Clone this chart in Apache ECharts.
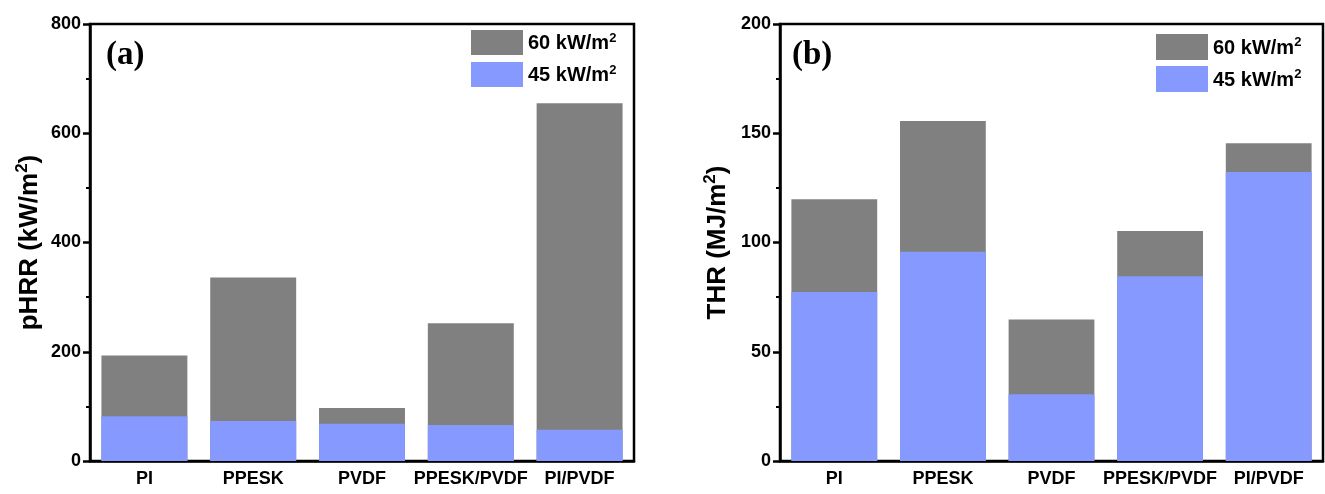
<!DOCTYPE html>
<html>
<head>
<meta charset="utf-8">
<script src="https://cdn.jsdelivr.net/npm/echarts@6/dist/echarts.min.js"></script>
<style>
  html, body { margin: 0; padding: 0; background: #fff; }
  #main { width: 1325px; height: 494px; }
</style>
</head>
<body>
<div id="main"></div>
<script>
// samples along the x axis
var categories = ['PI', 'PPESK', 'PVDF', 'PPESK/PVDF', 'PI/PVDF'];
// peak heat release rate, kW/m2
var phrr60 = [193, 336, 97, 252, 655];
var phrr45 = [82, 73, 68, 66, 57];
// total heat release, MJ/m2
var thr60 = [119.8, 155.6, 64.8, 105.3, 145.4];
var thr45 = [77.3, 95.8, 30.5, 84.5, 132.3];
var legendNames = ['60 kW/m2', '45 kW/m2'];

var gray = '#808080';
var blue = '#8599ff';
var font = 'Liberation Sans, Arial, sans-serif';

var supRich = {
    a: { fontFamily: font, fontWeight: 'bold', fontSize: 26, color: '#000', lineHeight: 29, verticalAlign: 'bottom' },
    s: { fontFamily: font, fontWeight: 'bold', fontSize: 17, color: '#000', lineHeight: 17, verticalAlign: 'top' }
};
var legRich = {
    a: { fontFamily: font, fontWeight: 'bold', fontSize: 20, color: '#000', lineHeight: 22, verticalAlign: 'bottom' },
    s: { fontFamily: font, fontWeight: 'bold', fontSize: 13, color: '#000', lineHeight: 13, verticalAlign: 'top' }
};

function xAxis(idx) {
    return {
        type: 'category', gridIndex: idx, data: categories,
        axisLine: { lineStyle: { color: '#000', width: 2.5 } },
        axisTick: { alignWithLabel: true, length: 7, lineStyle: { color: '#000', width: 2.5 } },
        axisLabel: { interval: 0, fontFamily: font, fontWeight: 'bold', fontSize: 18, color: '#000', margin: 9 }
    };
}
function yAxis(idx, max, interval, name) {
    return {
        type: 'value', gridIndex: idx, min: 0, max: max, interval: interval,
        name: name, nameLocation: 'middle', nameGap: idx === 0 ? 47 : 49, nameRotate: 90,
        nameTextStyle: { rich: supRich },
        splitLine: { show: false },
        axisLine: { show: true, lineStyle: { color: '#000', width: 2.5 } },
        axisTick: { show: true, length: 7, lineStyle: { color: '#000', width: 2.5 } },
        minorTick: { show: true, splitNumber: 2, length: 4, lineStyle: { color: '#000', width: 2 } },
        axisLabel: { fontFamily: font, fontWeight: 'bold', fontSize: 18, color: '#000', margin: 9 }
    };
}
function legendFmt(name) {
    return '{a|' + name.slice(0, -1) + '}{s|2}';
}

var chart = echarts.init(document.getElementById('main'));
chart.setOption({
    animation: false,
    grid: [
        { left: 90, top: 24, width: 544, height: 437, show: true, borderColor: '#000', borderWidth: 2.5 },
        { left: 780, top: 24, width: 543, height: 437, show: true, borderColor: '#000', borderWidth: 2.5 }
    ],
    legend: [
        {
            data: legendNames, left: 471, top: 30, orient: 'vertical', padding: 0,
            itemWidth: 52, itemHeight: 25, itemGap: 7, icon: 'rect',
            formatter: legendFmt, textStyle: { rich: legRich }, selectedMode: false
        },
        {
            data: legendNames, left: 1156, top: 34, orient: 'vertical', padding: 0,
            itemWidth: 52, itemHeight: 26, itemGap: 6, icon: 'rect',
            formatter: legendFmt, textStyle: { rich: legRich }, selectedMode: false
        }
    ],
    title: [
        { text: '(a)', left: 106, top: 39, padding: 0, textStyle: { fontFamily: 'Liberation Serif, Times New Roman, serif', fontWeight: 'bold', fontSize: 33, color: '#000' } },
        { text: '(b)', left: 792, top: 39, padding: 0, textStyle: { fontFamily: 'Liberation Serif, Times New Roman, serif', fontWeight: 'bold', fontSize: 33, color: '#000' } }
    ],
    xAxis: [xAxis(0), xAxis(1)],
    yAxis: [
        yAxis(0, 800, 200, '{a|pHRR (kW/m}{s|2}{a|)}'),
        yAxis(1, 200, 50, '{a|THR (MJ/m}{s|2}{a|)}')
    ],
    series: [
        { name: legendNames[0], type: 'bar', xAxisIndex: 0, yAxisIndex: 0, data: phrr60, barWidth: '79%', barGap: '-100%', itemStyle: { color: gray } },
        { name: legendNames[1], type: 'bar', xAxisIndex: 0, yAxisIndex: 0, data: phrr45, barWidth: '79%', barGap: '-100%', itemStyle: { color: blue } },
        { name: legendNames[0], type: 'bar', xAxisIndex: 1, yAxisIndex: 1, data: thr60, barWidth: '79%', barGap: '-100%', itemStyle: { color: gray } },
        { name: legendNames[1], type: 'bar', xAxisIndex: 1, yAxisIndex: 1, data: thr45, barWidth: '79%', barGap: '-100%', itemStyle: { color: blue } }
    ]
});
</script>
</body>
</html>
